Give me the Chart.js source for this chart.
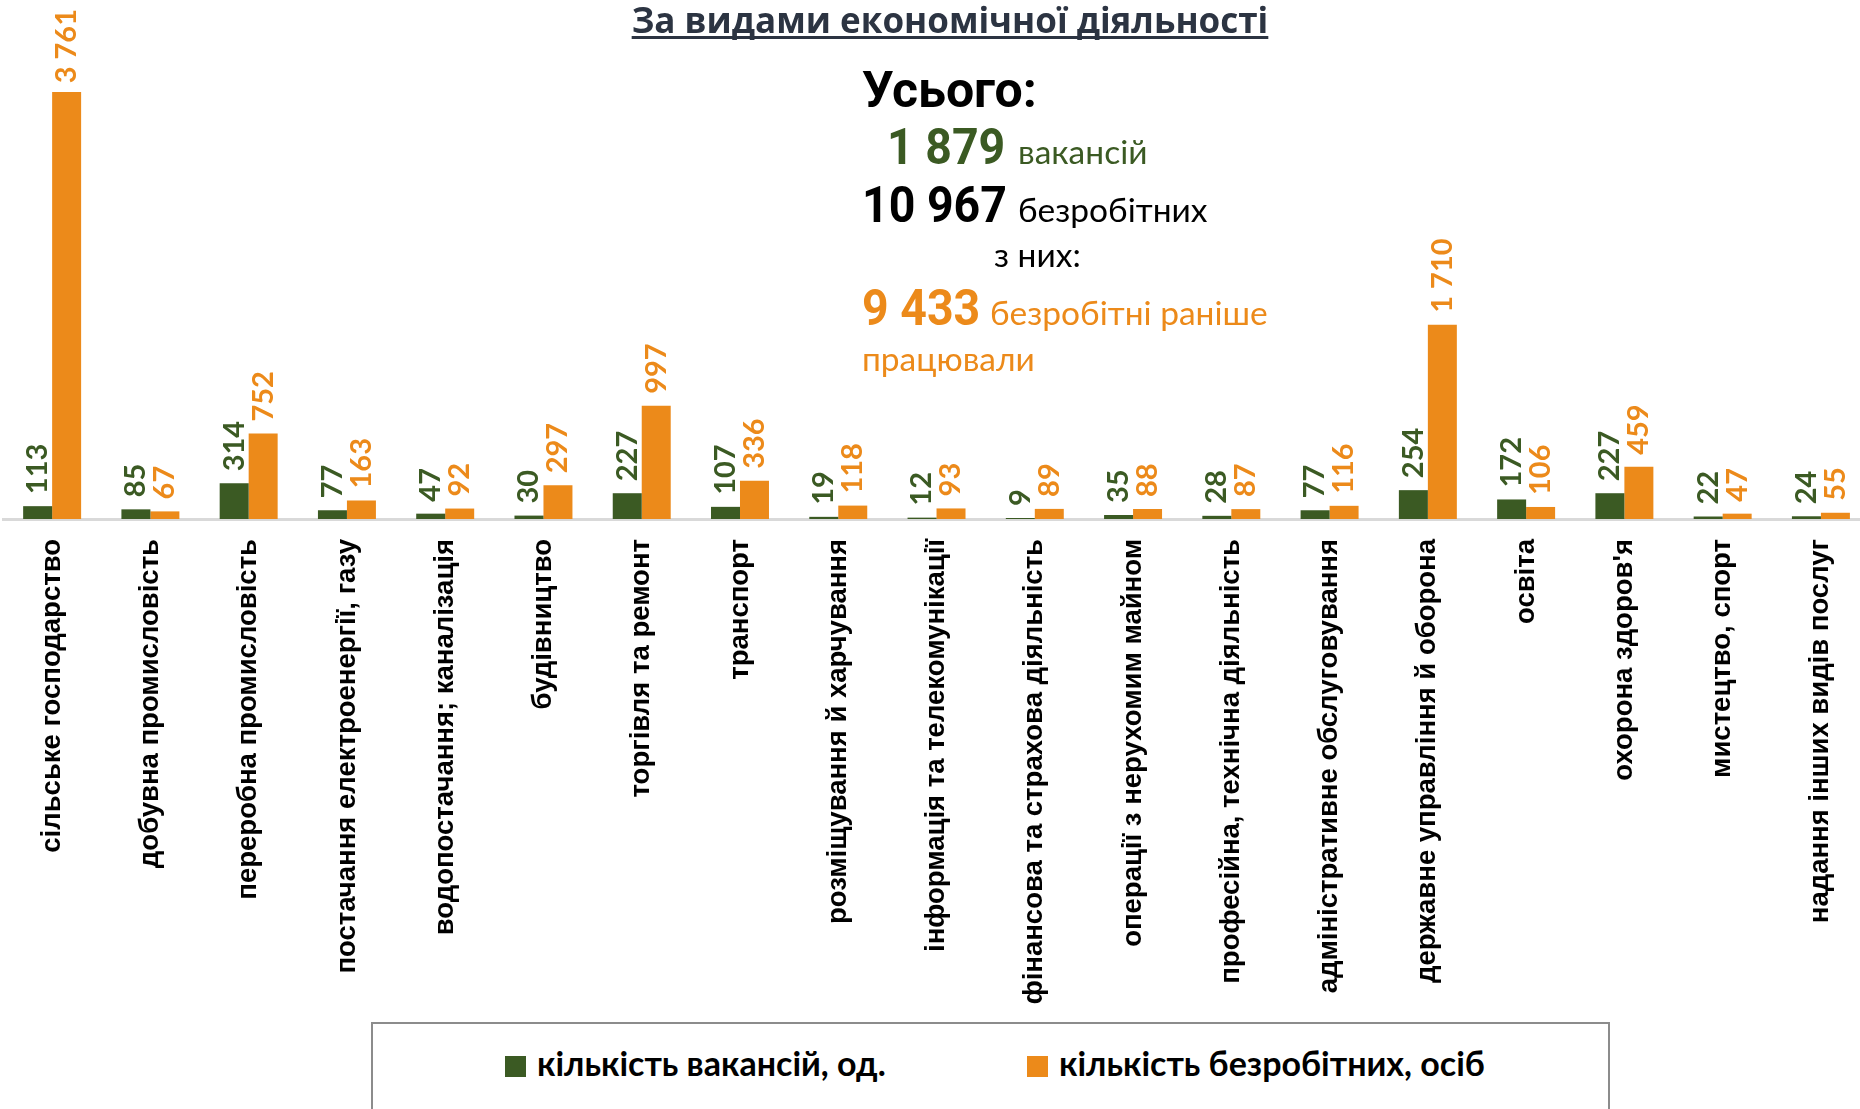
<!DOCTYPE html>
<html lang="uk">
<head>
<meta charset="utf-8">
<title>За видами економічної діяльності</title>
<script src="https://cdn.jsdelivr.net/npm/chart.js@4.4.1/dist/chart.umd.min.js"></script>
<style>
  html, body { margin: 0; padding: 0; background: #fff; overflow: hidden; }
  body { width: 1860px; height: 1109px; position: relative; }
  #wrap { position: absolute; left: 0; top: 0; width: 1874px; height: 1020px; }
  .t { position: absolute; white-space: nowrap; line-height: 1; }
  #title { left: 0; width: 1900px; text-align: center; top: -4px; font: bold 35px "Open Sans"; color: #2c3442;
    text-decoration: underline; text-decoration-thickness: 3px; text-underline-offset: 3px;
    text-decoration-skip-ink: none; }
  .num { font-family: Roboto; font-weight: bold; font-size: 50px; transform-origin: left top; }
  .narrow { transform: scaleX(0.93); }
  .word { font-family: Lato; font-size: 33.5px; }
  #legend { position: absolute; left: 371px; top: 1022px; width: 1235px; height: 200px; border: 2px solid #8c8c8c; background: #fff; }
  .item { position: absolute; top: 22px; font: bold 34px Lato; line-height: 1; color: #000; white-space: nowrap; }
  .item i { display: inline-block; width: 21px; height: 21px; margin-right: 11px; vertical-align: -1px; }
</style>
</head>
<body>
<div id="wrap"><canvas id="myChart"></canvas></div>

<div id="title" class="t">За видами економічної діяльності</div>
<div class="t num" style="left:862px;top:65px;color:#000">Усього:</div>
<div class="t num narrow" style="left:887px;top:122px;color:#3b5a23">1 879</div>
<div class="t word" style="left:1018px;top:135px;color:#3b5a23">вакансій</div>
<div class="t num narrow" style="left:862px;top:180px;color:#000">10 967</div>
<div class="t word" style="left:1018px;top:193px;color:#000">безробітних</div>
<div class="t word" style="left:994px;top:238px;color:#000">з них:</div>
<div class="t num narrow" style="left:862px;top:283px;color:#ec8a1a">9 433</div>
<div class="t word" style="left:990px;top:296px;color:#ec8a1a">безробітні раніше</div>
<div class="t word" style="left:862px;top:342px;color:#ec8a1a">працювали</div>

<div id="legend"></div>

<script>
const categories = [
  'сільське господарство',
  'добувна промисловість',
  'переробна промисловість',
  'постачання електроенергії, газу',
  'водопостачання; каналізація',
  'будівництво',
  'торгівля та ремонт',
  'транспорт',
  'розміщування й харчування',
  'інформація та телекомунікації',
  'фінансова та страхова діяльність',
  'операції з нерухомим майном',
  'професійна, технічна діяльність',
  'адміністративне обслуговування',
  'державне управління й оборона',
  'освіта',
  "охорона здоров'я",
  'мистецтво, спорт',
  'надання інших видів послуг'
]
const vacancies = [113, 85, 314, 77, 47, 30, 227, 107, 19, 12, 9, 35, 28, 77, 254, 172, 227, 22, 24]
const unemployed = [3761, 67, 752, 163, 92, 297, 997, 336, 118, 93, 89, 88, 87, 116, 1710, 106, 459, 47, 55]
const seriesNames = ['кількість вакансій, од.', 'кількість безробітних, осіб']
const colors = ['#3b5a23', '#ec8a1a']

// 3761 -> "3 761"
const fmt = v => String(v).replace(/\B(?=(\d{3})+(?!\d))/g, ' ')

// vertical value labels above the bars
const valueLabels = {
  id: 'valueLabels',
  afterDatasetsDraw (chart) {
    const ctx = chart.ctx
    ctx.font = 'bold 29px Lato'
    chart.data.datasets.forEach((ds, i) => {
      chart.getDatasetMeta(i).data.forEach((bar, j) => {
        const txt = fmt(ds.data[j])
        const w = ctx.measureText(txt).width
        // keep the tallest label inside the canvas
        const y0 = Math.max(bar.y - 12, w + 9)
        ctx.save()
        ctx.translate(bar.x, y0)
        ctx.rotate(-Math.PI / 2)
        ctx.fillStyle = ds.backgroundColor
        ctx.textAlign = 'left'
        ctx.textBaseline = 'middle'
        ctx.fillText(txt, 0, 0)
        ctx.restore()
      })
    })
  }
}

const ctx = document.getElementById('myChart').getContext('2d')
const chart = new Chart(ctx, {
  type: 'bar',
  data: {
    labels: categories,
    datasets: [
      { label: seriesNames[0], data: vacancies, backgroundColor: colors[0] },
      { label: seriesNames[1], data: unemployed, backgroundColor: colors[1] }
    ]
  },
  options: {
    responsive: true,
    maintainAspectRatio: false,
    animation: false,
    layout: { padding: { left: 3, right: 3, top: 0, bottom: 0 } },
    datasets: { bar: { categoryPercentage: 0.59, barPercentage: 1 } },
    plugins: { legend: { display: false }, tooltip: { enabled: false } },
    scales: {
      x: {
        grid: { display: false, drawTicks: false },
        border: { display: true, color: '#d9d9d9', width: 3 },
        ticks: {
          autoSkip: false,
          minRotation: 90,
          maxRotation: 90,
          padding: 20,
          color: '#000',
          font: { family: 'Liberation Sans', weight: 'bold', size: 27.5 }
        },
        afterFit: scale => { scale.height = 501 }
      },
      y: { display: false, min: 0, max: 4570 }
    }
  },
  plugins: [valueLabels]
})

// legend built from the datasets
const legend = document.getElementById('legend')
const itemLeft = [132, 654]
chart.data.datasets.forEach((ds, i) => {
  const el = document.createElement('div')
  el.className = 'item'
  el.style.left = itemLeft[i] + 'px'
  el.innerHTML = `<i style="background:${ds.backgroundColor}"></i>${ds.label}`
  legend.appendChild(el)
})
</script>
</body>
</html>
